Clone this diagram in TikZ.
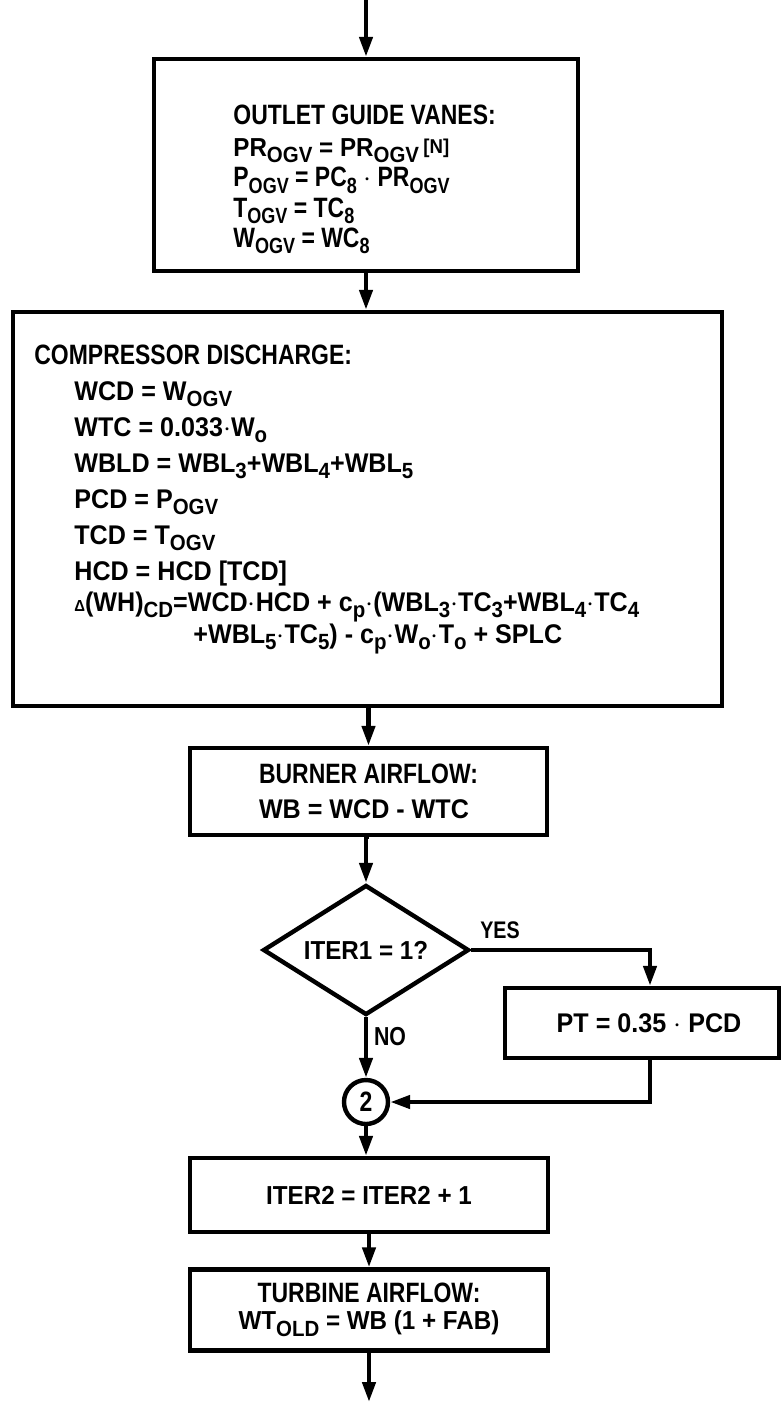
\documentclass[tikz,border=0pt]{standalone}
\usepackage{fontspec}
\setmainfont{Liberation Sans}[FakeStretch=0.82]
\newfontfamily\eqf{Liberation Sans}[FakeStretch=0.93]
\usetikzlibrary{arrows.meta,shapes.geometric,calc}
\newcommand{\lo}[1]{\raisebox{-3.2pt}{\fontsize{11}{11}\selectfont #1}}
\newcommand{\hi}[1]{\raisebox{1.5pt}{\fontsize{10}{10}\selectfont #1}}
\newcommand{\dlt}{{\fontsize{8}{8}\selectfont Δ}}
\setlength{\lineskiplimit}{-50pt}

\begin{document}
\begin{tikzpicture}[x=0.5pt,y=-0.5pt,
  every node/.style={font=\bfseries\fontsize{14}{14}\selectfont},
  blok/.style={draw,line width=2.2pt,inner sep=0pt},
  tulis/.style={align=left,inner sep=0pt,anchor=north west},
  alir/.style={line width=2.2pt,-{Triangle[length=10pt,width=6.5pt]}}]
  \useasboundingbox (0,0) rectangle (783,1404);

  % kotak-kotak
  \node[blok,minimum width=212pt,minimum height=106pt] (ogv) at (366,165) {};
  \node[blok,minimum width=354.5pt,minimum height=197pt] (comp) at (367.5,509) {};
  \node[blok,minimum width=178.5pt,minimum height=43.5pt,align=left,
        font=\bfseries\fontsize{14}{17.5}\selectfont] (burn) at (368.5,791.5)
        {BURNER AIRFLOW:\\\eqf\fontsize{13.5}{17.5}\selectfont WB = WCD - WTC};
  \node[blok,diamond,aspect=1.6,minimum width=103pt,minimum height=65pt,
        font=\bfseries\eqf\fontsize{13}{13}\selectfont] (dec) at (366,950)
        {ITER1 = 1?};
  \node[blok,minimum width=137pt,minimum height=35pt,
        font=\bfseries\eqf\fontsize{13.5}{14}\selectfont] (pt) at (642,1023)
        {\hspace*{7pt}PT = 0.35 $\cdot$ PCD};
  \node[blok,circle,minimum size=22pt] (c2) at (366,1102) {2};
  \node[blok,minimum width=179pt,minimum height=37pt,
        font=\bfseries\eqf\fontsize{13}{14}\selectfont] (iter) at (369,1195)
        {ITER2 = ITER2 + 1};
  \node[blok,minimum width=179pt,minimum height=40.5pt,align=center,
        font=\bfseries\fontsize{14}{13.5}\selectfont] (turb) at (369,1310)
        {TURBINE AIRFLOW:\\\eqf\fontsize{13}{13.5}\selectfont WT\lo{OLD} = WB (1 + FAB)};

  % isi kotak
  \node[tulis,font=\bfseries\fontsize{14}{15.2}\selectfont] (ogvtxt) at (233,105)
        {OUTLET GUIDE VANES:\\[0.5pt]\eqf\fontsize{13}{15.2}\selectfont
         PR\lo{OGV} = PR\lo{OGV}\,\hi{[N]}\\
         P\lo{OGV} = PC\lo{8} $\cdot$ PR\lo{OGV}\\
         T\lo{OGV} = TC\lo{8}\\
         W\lo{OGV} = WC\lo{8}};
  \node[tulis] (comptitle) at (34,345) {COMPRESSOR DISCHARGE:};
  \node[tulis,font=\bfseries\eqf\fontsize{13.5}{18}\selectfont] (comptxt) at (74,381)
        {WCD = W\lo{OGV}\\
         WTC = 0.033$\cdot$W\lo{o}\\
         WBLD = WBL\lo{3}+WBL\lo{4}+WBL\lo{5}\\
         PCD = P\lo{OGV}\\
         TCD = T\lo{OGV}\\
         HCD = HCD [TCD]\\[-2.5pt]
         \dlt(WH)\lo{CD}=WCD$\cdot$HCD + c\lo{p}$\cdot$(WBL\lo{3}$\cdot$TC\lo{3}+WBL\lo{4}$\cdot$TC\lo{4}\\[-2pt]
         \hspace*{59.5pt}+WBL\lo{5}$\cdot$TC\lo{5}) - c\lo{p}$\cdot$W\lo{o}$\cdot$T\lo{o} + SPLC};

  \node[font=\bfseries\fontsize{12}{12}\selectfont] (yes) at (500,930) {YES};
  \node[font=\bfseries\fontsize{13}{13}\selectfont] (no) at (390,1037) {NO};

  % panah
  \coordinate (masuk) at (366,0);
  \coordinate (keluar) at (369,1402);
  \draw[alir] (masuk) -- (ogv.north);
  \draw[alir] (ogv.south) -- (ogv.south |- comp.north);
  \draw[alir] (burn.north |- comp.south) -- (burn.north);
  \draw[alir] (burn.south) -- (burn.south -| dec.north) -- (dec.north);
  \draw[alir] (dec.east) -| ([xshift=4pt]pt.north);
  \draw[alir] (dec.south) -- (c2.north);
  \draw[alir] ([xshift=4pt]pt.south) |- (c2.east);
  \draw[alir] (c2.south) -- (c2.south |- iter.north);
  \draw[alir] (iter.south) -- (turb.north);
  \draw[alir] (turb.south) -- (keluar);
\end{tikzpicture}
\end{document}
